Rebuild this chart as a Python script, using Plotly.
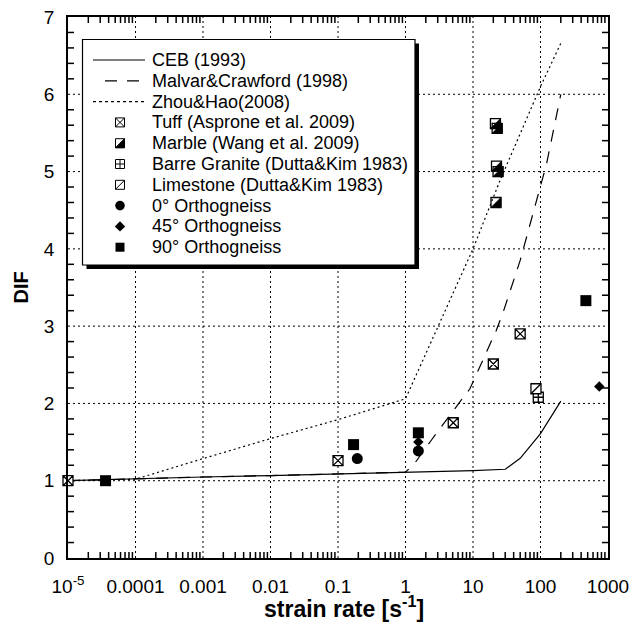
import plotly.graph_objects as go

# ---------------- data ----------------
ceb_x = [1e-5, 1e-4, 1e-3, 1e-2, 0.1, 1, 10, 30, 50, 100, 200]
ceb_y = [1.0, 1.027, 1.048, 1.066, 1.085, 1.105, 1.13, 1.148, 1.29, 1.61, 2.03]

malvar_x = [1e-5, 1e-4, 1e-3, 1e-2, 0.1, 1.0, 1.38, 2.44, 6.4, 9, 22, 27.5, 50, 78, 123, 200]
malvar_y = [1.0, 1.027, 1.048, 1.066, 1.085, 1.11, 1.23, 1.53, 2.02, 2.19, 2.94, 3.16, 3.85, 4.46, 5.1, 6.0]

zhou_x = [1e-5, 1e-4, 1e-3, 1e-2, 0.1, 1, 10, 25, 100, 200]
zhou_y = [1.0, 1.02, 1.286, 1.545, 1.79, 2.06, 4.0, 4.88, 6.1, 6.66]

tuff_x = [1e-5, 0.1, 5.1, 20, 50]
tuff_y = [1.0, 1.26, 1.75, 2.51, 2.9]

marble_x = [21.5, 22.8, 22.3, 23.5, 21.9]
marble_y = [5.62, 5.56, 5.07, 5.0, 4.6]

granite_x = [92.7]
granite_y = [2.08]

lime_x = [85.7]
lime_y = [2.19]

og0_x = [0.193, 1.55]
og0_y = [1.286, 1.385]

og45_x = [1.55, 743]
og45_y = [1.5, 2.22]

og90_x = [3.6e-5, 0.17, 1.55, 470]
og90_y = [1.0, 1.467, 1.62, 3.33]

x_tickvals = [1e-5, 1e-4, 1e-3, 1e-2, 0.1, 1, 10, 100, 1000]
x_ticktext = ["10<sup>-5</sup>", "0.0001", "0.001", "0.01", "0.1", "1", "10", "100", "1000"]
y_tickvals = [0, 1, 2, 3, 4, 5, 6, 7]

legend_names = ["CEB (1993)", "Malvar&Crawford (1998)", "Zhou&Hao(2008)",
                "Tuff (Asprone et al. 2009)", "Marble (Wang et al. 2009)",
                "Barre Granite (Dutta&Kim 1983)", "Limestone (Dutta&Kim 1983)",
                "0° Orthogneiss", "45° Orthogneiss", "90° Orthogneiss"]

# ---------------- layout geometry ----------------
W, H = 644, 630
OFF = 8                      # page body margin
ML, MT = 60, 9
PW, PH = 540, 541
MR = W - ML - PW
MB = H - MT - PH
FONT = "Liberation Sans, Arial, Helvetica, sans-serif"


def px2x(px):
    return (px - OFF - ML) / PW


def py2y(py):
    return (MT + PH - (py - OFF)) / PH


fig = go.Figure()

LW = 1.2
fig.add_trace(go.Scatter(x=ceb_x, y=ceb_y, mode="lines", name=legend_names[0],
                         line=dict(color="black", width=LW), showlegend=False))
fig.add_trace(go.Scatter(x=malvar_x, y=malvar_y, mode="lines", name=legend_names[1],
                         line=dict(color="black", width=LW, dash="12px,10px"), showlegend=False))
fig.add_trace(go.Scatter(x=zhou_x, y=zhou_y, mode="lines", name=legend_names[2],
                         line=dict(color="black", width=LW, dash="2px,3px"), showlegend=False))

mline = dict(color="black", width=1.3)
fig.add_trace(go.Scatter(x=tuff_x, y=tuff_y, mode="markers", name=legend_names[3], cliponaxis=False,
                         marker=dict(symbol="square-x", size=10, color="white", line=mline),
                         showlegend=False))
fig.add_trace(go.Scatter(x=marble_x, y=marble_y, mode="markers", name=legend_names[4], cliponaxis=False,
                         marker=dict(symbol="square-open", size=10, color="black", line=mline),
                         showlegend=False))
fig.add_trace(go.Scatter(x=granite_x, y=granite_y, mode="markers", name=legend_names[5], cliponaxis=False,
                         marker=dict(symbol="square-cross", size=10, color="white", line=mline),
                         showlegend=False))
fig.add_trace(go.Scatter(x=lime_x, y=lime_y, mode="markers", name=legend_names[6], cliponaxis=False,
                         marker=dict(symbol="square", size=10, color="white", line=mline),
                         showlegend=False))
fig.add_trace(go.Scatter(x=lime_x, y=lime_y, mode="markers", cliponaxis=False, hoverinfo="skip",
                         marker=dict(symbol="line-ne", size=10, color="black", line=mline),
                         showlegend=False))
fig.add_trace(go.Scatter(x=og0_x, y=og0_y, mode="markers", name=legend_names[7], cliponaxis=False,
                         marker=dict(symbol="circle", size=11, color="black", line=dict(width=0)),
                         showlegend=False))
fig.add_trace(go.Scatter(x=og45_x, y=og45_y, mode="markers", name=legend_names[8], cliponaxis=False,
                         marker=dict(symbol="diamond", size=8, color="black", line=dict(width=0)),
                         showlegend=False))
fig.add_trace(go.Scatter(x=og90_x, y=og90_y, mode="markers", name=legend_names[9], cliponaxis=False,
                         marker=dict(symbol="square", size=11, color="black", line=dict(width=0)),
                         showlegend=False))

shapes = []

# dotted grid lines at the major ticks (drawn below the data)
GRID = dict(color="black", width=1, dash="2px,3px")
for gx in x_tickvals[1:-1]:
    shapes.append(dict(type="line", xref="x", yref="paper", x0=gx, x1=gx, y0=0, y1=1,
                       line=GRID, layer="below"))
for gy in y_tickvals[1:-1]:
    shapes.append(dict(type="line", xref="paper", yref="y", x0=0, x1=1, y0=gy, y1=gy,
                       line=GRID, layer="below"))

# inside minor tick marks on all four sides, placed through the axes
TL = 6
TICK = dict(color="black", width=1.5)
minor_x = [m * 10.0 ** e for e in range(-5, 3) for m in range(2, 10)]
minor_y = [i / 5 for i in range(1, 35) if i % 5]
for tx in minor_x:
    shapes.append(dict(type="line", xref="x", yref="paper", x0=tx, x1=tx, y0=0, y1=TL / PH,
                       line=TICK, layer="above"))
    shapes.append(dict(type="line", xref="x", yref="paper", x0=tx, x1=tx, y0=1 - TL / PH, y1=1,
                       line=TICK, layer="above"))
for ty in minor_y:
    shapes.append(dict(type="line", xref="paper", yref="y", x0=0, x1=TL / PW, y0=ty, y1=ty,
                       line=TICK, layer="above"))
    shapes.append(dict(type="line", xref="paper", yref="y", x0=1 - TL / PW, x1=1, y0=ty, y1=ty,
                       line=TICK, layer="above"))


def sym_shape(xa, ya, path, fill, xref, yref, width=1.0):
    return dict(type="path", xref=xref, yref=yref, xsizemode="pixel", ysizemode="pixel",
                xanchor=xa, yanchor=ya, path=path, fillcolor=fill,
                line=dict(color="black", width=width), layer="above")


def tri_path(r):
    return f"M{-r},{-r}L{r},{-r}L{r},{r}Z"


# filled half of the marble markers, anchored at the data points
for mx, my in zip(marble_x, marble_y):
    shapes.append(sym_shape(mx, my, tri_path(5), "black", "x", "y", width=0.8))

# ---------------- custom legend ----------------
BX0, BX1, BY0, BY1 = 82.5, 415, 39.5, 265
SH = 4
shapes.append(dict(type="rect", xref="paper", yref="paper",
                   x0=px2x(BX0 + SH), x1=px2x(BX1 + SH), y0=py2y(BY1 + SH), y1=py2y(BY0 + SH),
                   fillcolor="black", line=dict(width=0), layer="above"))
shapes.append(dict(type="rect", xref="paper", yref="paper",
                   x0=px2x(BX0), x1=px2x(BX1), y0=py2y(BY1), y1=py2y(BY0),
                   fillcolor="white", line=dict(color="black", width=1.2), layer="above"))

rows = [60 + 20.8 * i for i in range(10)]
TX = 150
MX = 120

# line samples
shapes.append(dict(type="line", xref="paper", yref="paper", x0=px2x(93), x1=px2x(145),
                   y0=py2y(rows[0]), y1=py2y(rows[0]), line=dict(color="black", width=LW), layer="above"))
shapes.append(dict(type="line", xref="paper", yref="paper", x0=px2x(105), x1=px2x(143),
                   y0=py2y(rows[1]), y1=py2y(rows[1]), line=dict(color="black", width=LW, dash="12px,10px"),
                   layer="above"))
shapes.append(dict(type="line", xref="paper", yref="paper", x0=px2x(93), x1=px2x(145),
                   y0=py2y(rows[2]), y1=py2y(rows[2]), line=dict(color="black", width=LW, dash="3px,3px"),
                   layer="above"))

r = 4.5
sq = f"M{-r},{-r}L{r},{-r}L{r},{r}L{-r},{r}Z"
xx = f"M{-r},{-r}L{r},{r}M{-r},{r}L{r},{-r}"
cr = f"M0,{-r}L0,{r}M{-r},0L{r},0"
dg = f"M{-r},{-r}L{r},{r}"
none = "rgba(0,0,0,0)"
lx = px2x(MX)

# tuff
shapes.append(sym_shape(lx, py2y(rows[3]), sq, "white", "paper", "paper"))
shapes.append(sym_shape(lx, py2y(rows[3]), xx, none, "paper", "paper"))
# marble
shapes.append(sym_shape(lx, py2y(rows[4]), sq, "white", "paper", "paper"))
shapes.append(sym_shape(lx, py2y(rows[4]), tri_path(r), "black", "paper", "paper"))
# granite
shapes.append(sym_shape(lx, py2y(rows[5]), sq, "white", "paper", "paper"))
shapes.append(sym_shape(lx, py2y(rows[5]), cr, none, "paper", "paper"))
# limestone
shapes.append(sym_shape(lx, py2y(rows[6]), sq, "white", "paper", "paper"))
shapes.append(sym_shape(lx, py2y(rows[6]), dg, none, "paper", "paper"))
# 0 deg circle
shapes.append(dict(type="circle", xref="paper", yref="paper", xsizemode="pixel", ysizemode="pixel",
                   xanchor=lx, yanchor=py2y(rows[7]), x0=-4.8, x1=4.8, y0=-4.8, y1=4.8,
                   fillcolor="black", line=dict(width=0), layer="above"))
# 45 deg diamond
rd = 5.2
shapes.append(sym_shape(lx, py2y(rows[8]), f"M0,{-rd}L{rd},0L0,{rd}L{-rd},0Z", "black", "paper", "paper",
                        width=0))
# 90 deg square
shapes.append(sym_shape(lx, py2y(rows[9]), sq, "black", "paper", "paper", width=0))

annotations = []
for i, name in enumerate(legend_names):
    annotations.append(dict(xref="paper", yref="paper", x=px2x(TX), y=py2y(rows[i]),
                            text=name, showarrow=False, xanchor="left", yanchor="middle",
                            font=dict(family=FONT, size=18, color="black")))

# axis titles
annotations.append(dict(xref="paper", yref="paper", x=px2x(344), y=py2y(607),
                        text="<b>strain rate [s<sup>-1</sup>]</b>", showarrow=False,
                        xanchor="center", yanchor="middle",
                        font=dict(family=FONT, size=23, color="black")))
annotations.append(dict(xref="paper", yref="paper", x=px2x(20.5), y=py2y(288),
                        text="<b>DIF</b>", showarrow=False, textangle=-90,
                        xanchor="center", yanchor="middle",
                        font=dict(family=FONT, size=20, color="black")))

fig.update_layout(
    width=W, height=H,
    margin=dict(l=ML, r=MR, t=MT, b=MB, autoexpand=False),
    paper_bgcolor="white", plot_bgcolor="white",
    showlegend=False,
    shapes=shapes, annotations=annotations,
    font=dict(family=FONT, color="black"),
)

# major ticks are transparent and outside: they only set the label offset
fig.update_xaxes(
    type="log", range=[-5, 3],
    tickmode="array", tickvals=x_tickvals, ticktext=x_ticktext,
    ticks="outside", ticklen=10, tickwidth=1, tickcolor="rgba(255,255,255,0)",
    showline=True, linecolor="black", linewidth=1.5, mirror=True,
    showgrid=False, zeroline=False,
    tickfont=dict(family=FONT, size=19, color="black"),
)
fig.update_yaxes(
    range=[0, 7], tickmode="array", tickvals=y_tickvals,
    ticks="outside", ticklen=8, tickwidth=1, tickcolor="rgba(255,255,255,0)",
    showline=True, linecolor="black", linewidth=1.5, mirror=True,
    showgrid=False, zeroline=False,
    tickfont=dict(family=FONT, size=19, color="black"),
    ticklabeloverflow="allow",
)

fig.write_html("out.html")
